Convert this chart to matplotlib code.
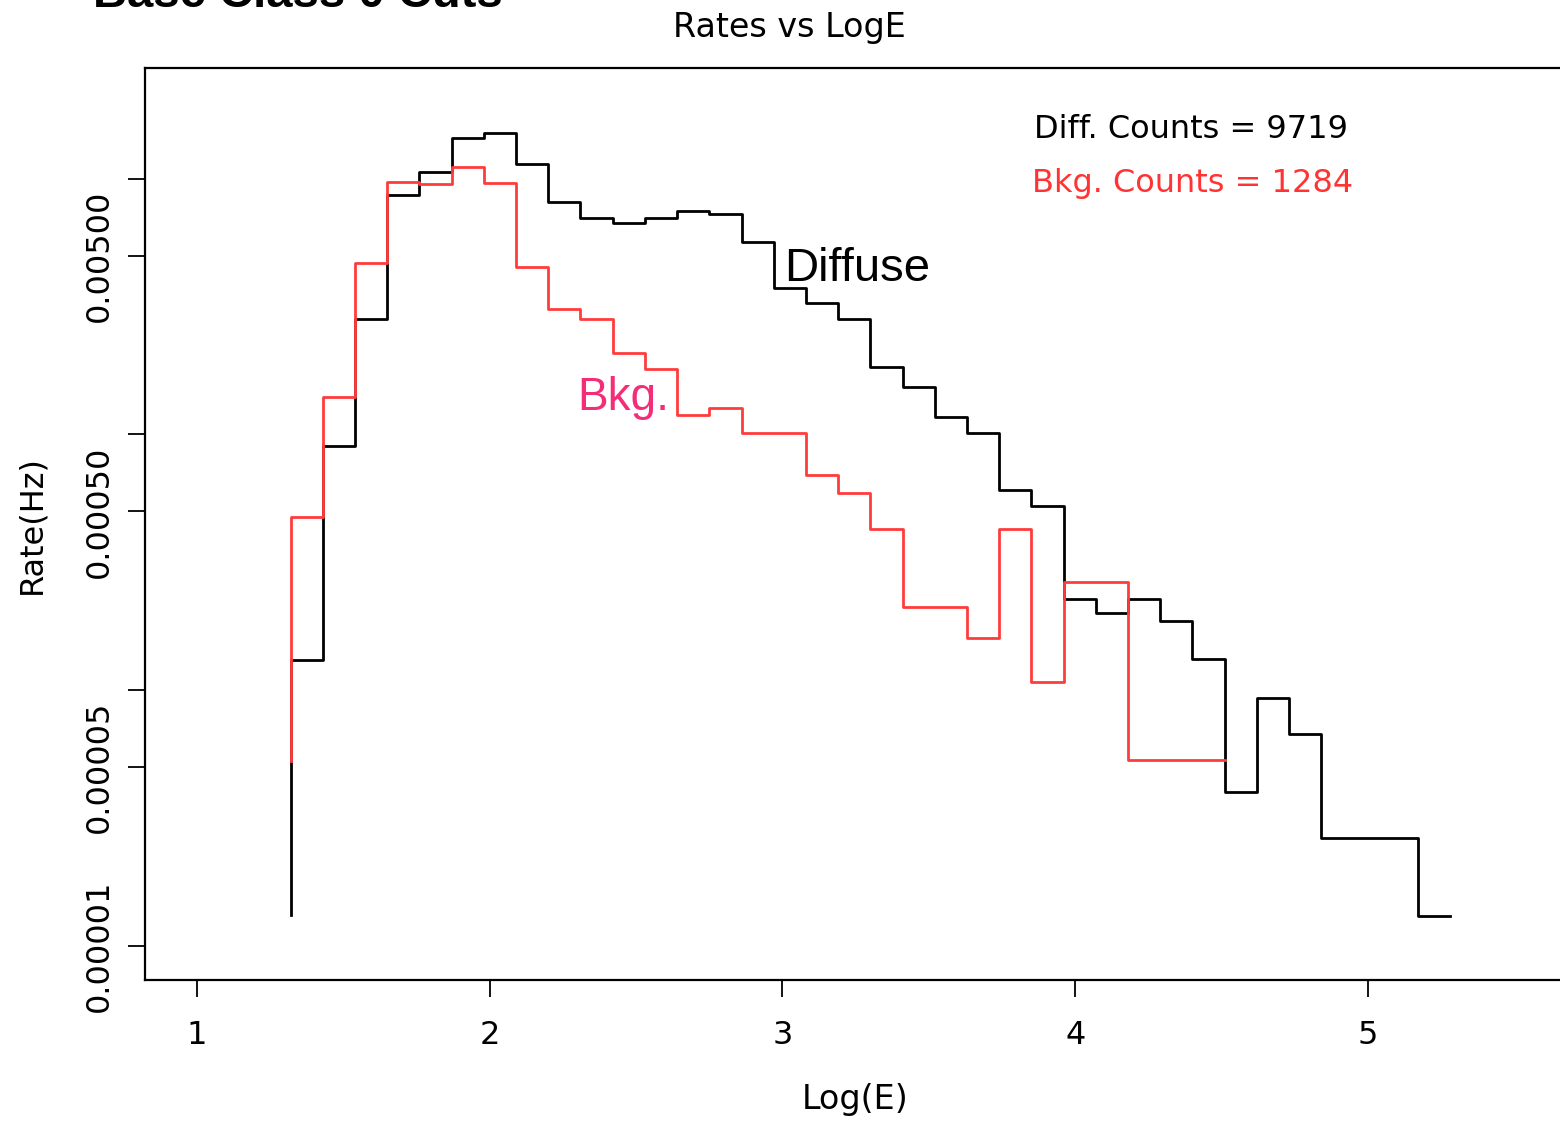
import matplotlib
matplotlib.use("Agg")
import matplotlib.pyplot as plt
import numpy as np

# ---------------- data ----------------
log_e_edges = [1.32, 1.43, 1.54, 1.65, 1.76, 1.87, 1.98, 2.09, 2.20, 2.31,
               2.42, 2.53, 2.64, 2.75, 2.86, 2.97, 3.08, 3.19, 3.30, 3.41,
               3.52, 3.63, 3.74, 3.85, 3.96, 4.07, 4.18, 4.29, 4.40, 4.51,
               4.62, 4.73, 4.84, 4.95, 5.06, 5.17, 5.28]

diffuse_start = 1.32e-5
diffuse_rate = [1.31e-4, 9.01e-4, 2.82e-3, 8.63e-3, 1.064e-2, 1.441e-2, 1.512e-2,
                1.144e-2, 8.08e-3, 6.99e-3, 6.72e-3, 6.99e-3, 7.49e-3, 7.25e-3,
                5.67e-3, 3.725e-3, 3.254e-3, 2.818e-3, 1.839e-3, 1.537e-3, 1.166e-3,
                1.010e-3, 6.06e-4, 5.25e-4, 2.266e-4, 2.009e-4, 2.266e-4, 1.87e-4,
                1.321e-4, 4.01e-5, 9.29e-5, 6.72e-5, 2.636e-5, 2.636e-5, 2.636e-5,
                1.31e-5]

bkg_start = 5.3e-5
bkg_rate = [4.77e-4, 1.396e-3, 4.69e-3, 9.67e-3, 9.52e-3, 1.113e-2, 9.65e-3,
            4.50e-3, 3.106e-3, 2.818e-3, 2.075e-3, 1.807e-3, 1.191e-3, 1.272e-3,
            1.010e-3, 1.010e-3, 6.97e-4, 5.92e-4, 4.26e-4, 2.12e-4, 2.12e-4,
            1.595e-4, 4.26e-4, 1.08e-4, 2.655e-4, 2.655e-4, 5.33e-5, 5.33e-5,
            5.33e-5]

x_ticks = [1, 2, 3, 4, 5]
x_tick_labels = ["1", "2", "3", "4", "5"]
y_ticks = [1e-5, 5e-5, 1e-4, 5e-4, 1e-3, 5e-3, 1e-2]
y_tick_labels = ["0.00001", "0.00005", "", "0.00050", "", "0.00500", ""]

diff_counts = 9719
bkg_counts = 1284

# ---------------- figure ----------------
plt.rcParams["font.family"] = ["DejaVu Sans"]
W, H = 1560, 1124
fig = plt.figure(figsize=(W / 100, H / 100), dpi=100)
ax = fig.add_axes([145 / W, (H - 980) / H, (1600 - 145) / W, (980 - 68) / H])
ax.set_yscale("log")

n_d = len(diffuse_rate)
ax.step(log_e_edges[:n_d + 1], [diffuse_start] + diffuse_rate, where="pre",
        color="black", lw=2.0, zorder=2)
n_b = len(bkg_rate)
ax.step(log_e_edges[:n_b + 1], [bkg_start] + bkg_rate, where="pre",
        color="#ff3c3c", lw=2.0, zorder=3)

ax.set_xlim(0.8224, 5.7925)
ax.set_ylim(10 ** -5.1329, 10 ** -1.5676)

ax.set_xticks(x_ticks)
ax.set_xticklabels(x_tick_labels, fontsize=23)
ax.set_yticks(y_ticks)
ax.set_yticklabels(y_tick_labels, fontsize=23, rotation=90, va="center")
ax.yaxis.set_minor_locator(matplotlib.ticker.NullLocator())
ax.tick_params(axis="x", length=12, width=1.3, pad=17)
ax.tick_params(axis="y", length=12, width=1.3, pad=10)
for s in ax.spines.values():
    s.set_linewidth(1.6)

def fx(px):
    return px / W

def fy(py):
    return 1 - py / H

fig.text(fx(93), fy(7), "Base Class 0 Cuts", family="Liberation Sans",
         weight="bold", fontsize=34, va="baseline", ha="left")
fig.text(fx(789), fy(37.5), "Rates vs LogE", fontsize=24, ha="center", va="baseline")
fig.text(fx(1034), fy(138.3), f"Diff. Counts = {diff_counts}", fontsize=23,
         ha="left", va="baseline", color="black")
fig.text(fx(1032), fy(192), f"Bkg. Counts = {bkg_counts}", fontsize=23,
         ha="left", va="baseline", color="#ff3333")
fig.text(fx(784), fy(281), "Diffuse", family="Liberation Sans", fontsize=34,
         ha="left", va="baseline", color="black")
fig.text(fx(577), fy(410), "Bkg.", family="Liberation Sans", fontsize=33,
         ha="left", va="baseline", color="#f52d78")
fig.text(fx(855), fy(1100), "Log(E)", fontsize=24, ha="center", va="center")
fig.text(fx(32), fy(525), "Rate(Hz)", fontsize=23, ha="center", va="center",
         rotation=90)

fig.savefig("out.png", dpi=100, facecolor="white")
